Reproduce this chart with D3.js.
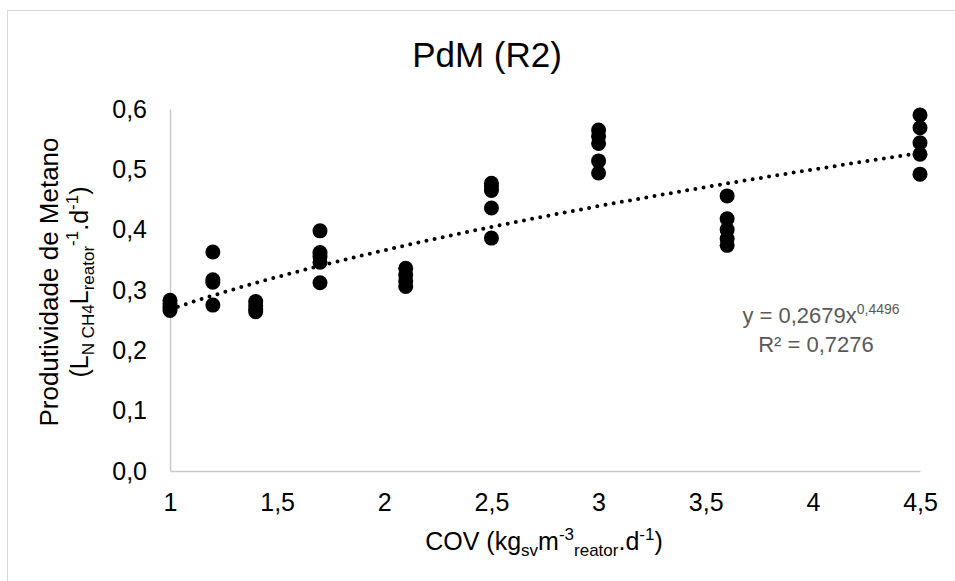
<!DOCTYPE html>
<html>
<head>
<meta charset="utf-8">
<script src="https://cdn.jsdelivr.net/npm/d3@7"></script>
<style>
  body { margin: 0; background: #fff; }
  text { font-family: "Liberation Sans", Arial, sans-serif; }
</style>
</head>
<body>
<script>
// organic loading rate (x) and methane productivity readings at each rate
var loadRates = [1, 1.2, 1.4, 1.7, 2.1, 2.5, 3, 3.6, 4.5];
var productivity = [
  [0.283, 0.277, 0.271, 0.266],
  [0.363, 0.317, 0.313, 0.275],
  [0.281, 0.274, 0.268, 0.264],
  [0.398, 0.362, 0.355, 0.346, 0.312],
  [0.336, 0.325, 0.315, 0.306],
  [0.477, 0.471, 0.465, 0.436, 0.386],
  [0.565, 0.555, 0.543, 0.514, 0.494],
  [0.456, 0.418, 0.400, 0.385, 0.374],
  [0.590, 0.569, 0.544, 0.525, 0.492]
];
var xTicks = [1, 1.5, 2, 2.5, 3, 3.5, 4, 4.5];
var yTicks = [0, 0.1, 0.2, 0.3, 0.4, 0.5, 0.6];
// power trendline y = a * x^b
var trendA = 0.2679, trendB = 0.4496, trendR2 = 0.7276;

var width = 955, height = 581;
var pt = d3.formatLocale({decimal: ",", thousands: ".", grouping: [3], currency: ["", ""]});

var svg = d3.select("body").append("svg")
    .attr("width", width)
    .attr("height", height);

// chart border
svg.append("rect")
    .attr("x", 7.5).attr("y", 10.5)
    .attr("width", width).attr("height", height)
    .attr("fill", "none")
    .attr("stroke", "#d9d9d9");

var x = d3.scaleLinear().domain([1, 4.5]).range([170, 920]);
var y = d3.scaleLinear().domain([0, 0.6]).range([471, 109]);

// axes
var xAxis = svg.append("g")
    .attr("transform", "translate(0," + y(0) + ")")
    .call(d3.axisBottom(x).tickValues(xTicks).tickSize(0).tickPadding(22)
      .tickFormat(pt.format("~g")));
var yAxis = svg.append("g")
    .attr("transform", "translate(" + x(1) + ",0)")
    .call(d3.axisLeft(y).tickValues(yTicks).tickSize(0).tickPadding(23)
      .tickFormat(pt.format(".1f")));

[xAxis, yAxis].forEach(function(a) {
  a.select(".domain").attr("stroke", "#c9c9c9").attr("stroke-width", 1.5);
  a.selectAll("text")
      .attr("font-size", 25)
      .attr("fill", "#000")
      .attr("font-family", "'Liberation Sans', Arial, sans-serif");
});

// trendline
var trendXs = d3.range(1, 4.5001, 0.05);
var line = d3.line()
    .x(function(d) { return x(d); })
    .y(function(d) { return y(trendA * Math.pow(d, trendB)); });
svg.append("path")
    .datum(trendXs)
    .attr("d", line)
    .attr("fill", "none")
    .attr("stroke", "#000")
    .attr("stroke-width", 4)
    .attr("stroke-linecap", "round")
    .attr("stroke-dasharray", "0,8.3");

// points
var points = [];
loadRates.forEach(function(r, i) {
  productivity[i].forEach(function(v) { points.push({x: r, y: v}); });
});
svg.append("g").selectAll("circle")
    .data(points)
  .enter().append("circle")
    .attr("cx", function(d) { return x(d.x); })
    .attr("cy", function(d) { return y(d.y); })
    .attr("r", 7.5)
    .attr("fill", "#000");

// title
svg.append("text")
    .attr("x", 487).attr("y", 67)
    .attr("text-anchor", "middle")
    .attr("font-size", 35)
    .text("PdM (R2)");

// x axis title
var xt = svg.append("text")
    .attr("x", 544).attr("y", 550)
    .attr("text-anchor", "middle")
    .attr("font-size", 25);
xt.append("tspan").text("COV (kg");
xt.append("tspan").attr("font-size", 17).attr("dy", 6).text("sv");
xt.append("tspan").attr("dy", -6).text("m");
xt.append("tspan").attr("font-size", 17).attr("dy", -10).text("-3");
xt.append("tspan").attr("font-size", 17).attr("dy", 16).text("reator");
xt.append("tspan").attr("dy", -6).text(".d");
xt.append("tspan").attr("font-size", 17).attr("dy", -10).text("-1");
xt.append("tspan").attr("dy", 10).text(")");

// y axis title
var yt = svg.append("g").attr("transform", "translate(58,282) rotate(-90)");
yt.append("text")
    .attr("text-anchor", "middle")
    .attr("font-size", 26)
    .text("Produtividade de Metano");
var yt2 = yt.append("text")
    .attr("y", 30)
    .attr("text-anchor", "middle")
    .attr("font-size", 25);
yt2.append("tspan").text("(L");
yt2.append("tspan").attr("font-size", 17).attr("dy", 6).text("N CH4");
yt2.append("tspan").attr("dy", -6).text("L");
yt2.append("tspan").attr("font-size", 17).attr("dy", 6).text("reator");
yt2.append("tspan").attr("font-size", 17).attr("dy", -16).text("-1");
yt2.append("tspan").attr("dy", 10).text(".d");
yt2.append("tspan").attr("font-size", 17).attr("dy", -10).text("-1");
yt2.append("tspan").attr("dy", 10).text(")");

// trendline equation
var eq = svg.append("text")
    .attr("x", 821).attr("y", 323)
    .attr("text-anchor", "middle")
    .attr("fill", "#595959")
    .attr("font-family", "Lato, 'Open Sans', sans-serif")
    .attr("font-size", 22);
eq.append("tspan").text("y = " + pt.format(".4f")(trendA) + "x");
eq.append("tspan").attr("font-size", 14).attr("dy", -9).text(pt.format(".4f")(trendB));
svg.append("text")
    .attr("x", 816).attr("y", 352)
    .attr("text-anchor", "middle")
    .attr("fill", "#595959")
    .attr("font-family", "Lato, 'Open Sans', sans-serif")
    .attr("font-size", 22)
    .text("R² = " + pt.format(".4f")(trendR2));
</script>
</body>
</html>
